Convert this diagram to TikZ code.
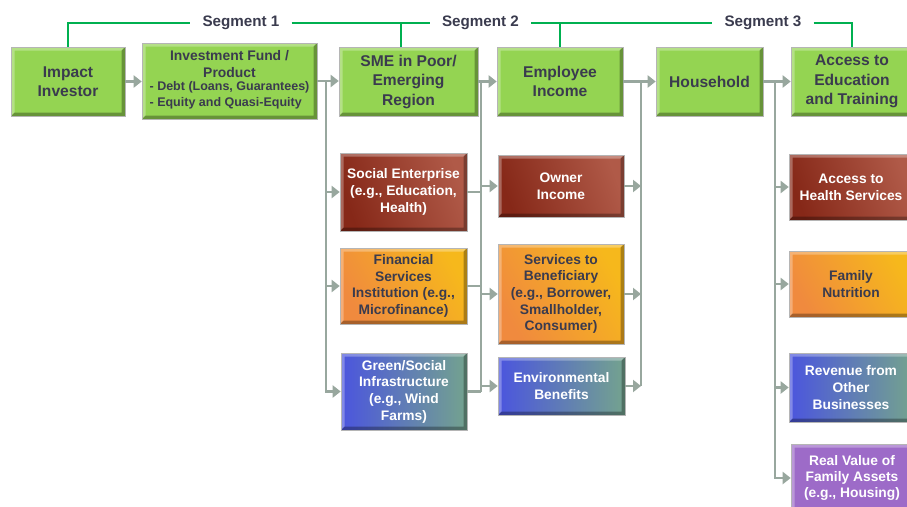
\documentclass[tikz,border=0pt]{standalone}
\usepackage{fontspec}
\setmainfont{Liberation Sans}
\usetikzlibrary{arrows.meta}
\definecolor{gfill}{HTML}{94D452}
\definecolor{dtext}{HTML}{3A3B4E}
\definecolor{segline}{HTML}{00B050}
\definecolor{cgray}{HTML}{98A79E}
\definecolor{boxline}{HTML}{B5B5B5}
\definecolor{redA}{HTML}{862818}
\definecolor{redB}{HTML}{B05A48}
\definecolor{orA}{HTML}{F08A3E}
\definecolor{orB}{HTML}{F6B81C}
\definecolor{blA}{HTML}{4B55DE}
\definecolor{blB}{HTML}{74A38E}
\definecolor{purp}{HTML}{9D6BC8}
\begin{document}
\begin{tikzpicture}[x=1pt,y=-1pt,
  bevel/.style={path picture={
    \fill[white,opacity=.3] (path picture bounding box.south west) -- (path picture bounding box.north west) -- (path picture bounding box.north east) -- ([xshift=-3.5pt,yshift=-3.5pt]path picture bounding box.north east) -- ([xshift=3.5pt,yshift=-3.5pt]path picture bounding box.north west) -- ([xshift=3.5pt,yshift=3.5pt]path picture bounding box.south west) -- cycle;
    \fill[black,opacity=.3] (path picture bounding box.south west) -- (path picture bounding box.south east) -- (path picture bounding box.north east) -- ([xshift=-3.5pt,yshift=-3.5pt]path picture bounding box.north east) -- ([xshift=-3.5pt,yshift=3.5pt]path picture bounding box.south east) -- ([xshift=3.5pt,yshift=3.5pt]path picture bounding box.south west) -- cycle;
  }},
  box/.style={draw=boxline, line width=0.6pt, inner sep=1pt, align=center, bevel},
  big/.style={font=\bfseries\fontsize{15.6}{19.5}\selectfont},
  small/.style={font=\bfseries\fontsize{13.8}{16.7}\selectfont},
  gbox/.style={box, big, fill=gfill, text=dtext},
  rbox/.style={box, small, left color=redA, right color=redB, shading angle=110, text=white},
  obox/.style={box, small, left color=orA, right color=orB, shading angle=120, text=dtext},
  bbox/.style={box, small, left color=blA, right color=blB, text=white},
  pbox/.style={box, small, fill=purp, text=white},
  seg/.style={font=\bfseries\fontsize{15.2}{18}\selectfont, text=dtext, inner xsep=12pt, inner ysep=0pt},
  segl/.style={draw=segline, line width=1.8pt},
  conn/.style={draw=cgray, line width=2.8pt},
  arr/.style={conn, -{Triangle[length=8pt,width=12pt]}}
]
\useasboundingbox (0,0) rectangle (907,506);
\clip (0,0) rectangle (907,506);
\fill[white] (0,0) rectangle (907,506);

% top row
\node[gbox, minimum width=114pt, minimum height=69pt] (inv) at (68,81.5) {Impact\\Investor};
\node[gbox, minimum width=175pt, minimum height=76pt, font=\bfseries\fontsize{13.9}{17}\selectfont] (fund) at (229.5,81)
  {Investment Fund /\\Product\\[0pt]{\fontsize{12.5}{16.5}\selectfont\begin{tabular}{@{}l@{}}- Debt (Loans, Guarantees)\\[-0.5pt]- Equity and Quasi-Equity\end{tabular}}};
\node[gbox, minimum width=139pt, minimum height=69pt] (sme) at (408.5,81.5) {SME in Poor/\\Emerging\\Region};
\node[gbox, minimum width=126pt, minimum height=69pt] (emp) at (560,81.5) {Employee\\Income};
\node[gbox, minimum width=107pt, minimum height=69pt] (hh) at (709.5,81.5) {Household};
\node[gbox, minimum width=122pt, minimum height=69pt] (edu) at (852,81.5) {Access to\\Education\\and Training};

% column 2
\node[rbox, minimum width=127pt, minimum height=78pt] (se) at (403.5,192) {Social Enterprise\\(e.g., Education,\\Health)};
\node[obox, minimum width=127pt, minimum height=76pt] (fsi) at (403.5,286) {Financial\\Services\\Institution (e.g.,\\Microfinance)};
\node[bbox, minimum width=126pt, minimum height=77pt] (gsi) at (404,391.5) {Green/Social\\Infrastructure\\(e.g., Wind\\Farms)};

% column 3
\node[rbox, minimum width=126pt, minimum height=62pt] (own) at (561,186) {Owner\\Income};
\node[obox, minimum width=126pt, minimum height=100pt] (svc) at (561,294) {Services to\\Beneficiary\\(e.g., Borrower,\\Smallholder,\\Consumer)};
\node[bbox, minimum width=127pt, minimum height=58pt] (env) at (561.5,386) {Environmental\\Benefits};

% column 5
\node[rbox, minimum width=124pt, minimum height=66pt] (hlth) at (851,187) {Access to\\Health Services};
\node[obox, minimum width=124pt, minimum height=66pt] (nutr) at (851,284) {Family\\Nutrition};
\node[bbox, minimum width=124pt, minimum height=69pt] (rev) at (851,387.5) {Revenue from\\Other\\Businesses};
\node[pbox, minimum width=122pt, minimum height=68pt, font=\bfseries\fontsize{13.8}{15.7}\selectfont] (asset) at (852,478) {Real Value of\\Family Assets\\(e.g., Housing)};

% segments
\node[seg] (s1) at (241,23) {Segment 1};
\node[seg] (s2) at (480.5,23) {Segment 2};
\node[seg] (s3) at (763,23) {Segment 3};
\coordinate (k1) at (401,23);
\coordinate (k2) at (560,23);
\draw[segl] (inv.north) |- (s1.west);
\draw[segl] (s1.east) -- (s2.west);
\draw[segl] (k1) -- (k1 |- sme.north);
\draw[segl] (s2.east) -- (s3.west);
\draw[segl] (k2) -- (emp.north);
\draw[segl] (s3.east) -| (edu.north);

% connectors
\coordinate (b1) at (326,81);
\coordinate (b2) at (481,81);
\coordinate (b3) at (641,81);
\coordinate (b4) at (775,81);
\draw[arr] (inv.east) -- (inv.east -| fund.west);
\draw[arr] (fund.east) -- (fund.east -| sme.west);
\draw[arr] (sme.east) -- (sme.east -| emp.west);
\draw[arr] (emp.east) -- (hh.west);
\draw[arr] (hh.east) -- (edu.west);

\draw[arr] (b1) |- (gsi.west);
\draw[arr] (b1 |- se.west) -- (se.west);
\draw[arr] (b1 |- fsi.west) -- (fsi.west);

\draw[conn] (b2) -- (b2 |- gsi.east);
\draw[conn] (se.east) -- (b2 |- se.east);
\draw[conn] (fsi.east) -- (b2 |- fsi.east);
\draw[conn] (gsi.east) -- (b2 |- gsi.east);
\draw[arr] (b2 |- own.west) -- (own.west);
\draw[arr] (b2 |- svc.west) -- (svc.west);
\draw[arr] (b2 |- env.west) -- (env.west);

\draw[conn] (b3) -- (b3 |- env.east);
\draw[arr] (own.east) -- (b3 |- own.east);
\draw[arr] (svc.east) -- (b3 |- svc.east);
\draw[arr] (env.east) -- (b3 |- env.east);

\draw[arr] (b4) |- (asset.west);
\draw[arr] (b4 |- hlth.west) -- (hlth.west);
\draw[arr] (b4 |- nutr.west) -- (nutr.west);
\draw[arr] (b4 |- rev.west) -- (rev.west);
\end{tikzpicture}
\end{document}
